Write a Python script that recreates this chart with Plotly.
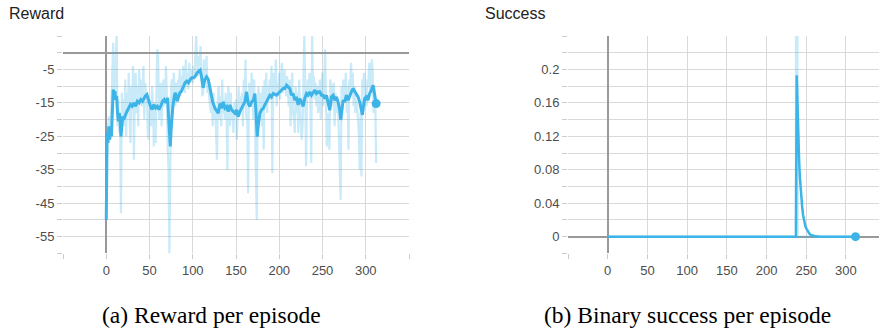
import plotly.graph_objects as go

# ---------------- data ----------------
reward_raw = [
    -50, -21, -27, -19, -26, -22, -16, -6, 3, -13,
    -10, -2, 6, -22, -14, -24, -18, -48, -12, -20,
    -14, -22, -8, -25, -12, -18, -6, -20, -27, -10,
    -16, -4, -32, -12, -6, -18, -10, -22, -5, -14,
    -8, -16, -11, -4, -20, -9, -14, -12, -24, -26,
    -18, -14, -22, -10, -16, -28, -15, -27, -12, 1,
    -1, -20, -15, -9, -22, -12, -8, -16, -13, -4,
    -12, -28, -35, -60, -26, -10, -8, -18, -6, -12,
    -16, -9, -14, -8, -12, -5, -13, -7, -10, -4,
    -8, -12, -2, -10, -6, -11, -3, -9, -7, -5,
    -9, -4, -8, 3, 6, -3, -7, -1, -4, 2,
    -10, -13, -12, -2, -6, -8, -1, -12, -10, -14,
    -16, -18, -14, -22, -12, -20, -16, -24, -32, -14,
    -10, -20, -13, -22, -8, -18, -14, -20, -12, -17,
    -35, -10, -14, -22, -12, -20, -18, -24, -15, -17,
    -14, -26, -20, -10, -18, -13, -16, -12, -22, -8,
    -14, -2, -20, -18, -42, -9, -12, -16, -6, -14,
    -20, -8, -30, -36, -50, -14, -10, -18, -12, -16,
    -22, -10, -29, -8, -14, -6, -18, -10, -12, -8,
    -14, -4, -36, -6, -10, -12, -2, -16, -9, -13,
    -6, -14, -8, -3, -12, -10, -5, -9, -13, -7,
    -12, -16, -8, -22, -14, -6, -18, -20, -24, -10,
    -18, -12, -24, -8, -16, -20, -26, -22, -3, 6,
    -10, -34, -14, -8, -13, -6, -15, -33, 6, -10,
    -7, -14, -9, -16, -10, -18, -12, -8, -20, -13,
    -6, -16, -10, 1, -14, -28, -20, -18, -29, -8,
    -10, -12, -16, -9, -22, -12, -18, -14, -16, -24,
    -37, -44, -10, -16, -8, -14, -12, -6, -18, -10,
    -29, -8, -12, -3, -10, -6, -16, -10, -18, -14,
    -16, -20, -24, -35, -18, -37, -8, -10, -6, -14,
    -12, -16, -8, -10, -3, -12, -8, -2, -6, -18, -10, -14, -33,
]
reward_episodes = list(range(len(reward_raw)))

reward_smooth_ep = [
    0, 1, 2, 3, 4, 5, 6, 7, 8, 9, 10, 11, 12, 13, 14, 15, 16, 17, 18, 19,
    20, 22, 24, 26, 28, 30, 32, 34, 36, 38, 40, 42, 45, 47, 49, 51, 53, 55,
    57, 59, 61, 63, 65, 67, 69, 71, 72, 74, 75, 77, 79, 80, 82, 84, 85, 87,
    89, 91, 93, 95, 97, 99, 101, 103, 105, 107, 108.5, 110, 112, 114, 116,
    118, 120, 123, 125.7, 127.6, 129.5, 131.5, 133.4, 135.3, 137.2, 139.2,
    141, 143, 145, 146.9, 148.8, 150.7, 152.6, 154.5, 156.5, 158.4, 160.3,
    162.2, 164.2, 166, 168, 170, 171.8, 173, 174.5, 176, 177.6, 179.5, 181.5,
    183.4, 185.3, 187.2, 189.1, 191, 193, 196.8, 200.7, 204.5, 206.4, 208.4,
    210.3, 212.2, 214.1, 216, 218, 219.9, 221.8, 223.8, 225.7, 227.6, 229.6,
    231.5, 233.4, 235.3, 237.3, 239.2, 241.1, 243, 245, 246.9, 248.8, 250.7,
    252.6, 254.6, 256.5, 258.4, 260.3, 262.3, 264.2, 266.1, 268, 270, 271.1,
    272.6, 273.8, 275.7, 277.6, 279.6, 281.5, 283.4, 285.3, 287.3, 289.2,
    291.1, 293, 295, 296.1, 297.6, 298.8, 300.7, 302.6, 304.5, 306.5, 308.4,
    309.5, 310.7, 312,
]
reward_smooth_val = [
    -50, -24, -27, -22, -26, -23, -25, -16, -11, -12, -11.5, -14, -13, -18,
    -20.5, -18, -20, -25, -21, -19,
    -20, -18.5, -17.5, -16.5, -15.5, -16, -15, -16, -14.5, -15, -14, -14.5,
    -13, -12.5, -14.5, -16, -17, -15.5,
    -16.5, -16, -17, -16, -14.5, -14, -15, -13.5, -19, -28, -23, -16, -12.5,
    -12, -14.5, -13, -12, -11.5,
    -10, -9, -8.5, -9, -8, -7.5, -7.5, -7, -6, -5.5, -5.2, -7, -10.5, -8,
    -7.2,
    -8, -11, -14.7, -16.6, -17.6, -18.1, -15.2, -16.6, -14.7, -16.6, -16.1,
    -17.6, -15.6, -17.1, -17.6, -18.1, -17.1, -19.1, -17.6, -16.6, -15.6,
    -14.7,
    -11.7, -15.2, -16.1, -14.7, -14.2, -12.2, -17.2, -25.1, -21.1, -18.1,
    -17.1, -16.6,
    -15.6, -14.7, -13.7, -12.7, -13.2, -12.2, -12.7, -11.7, -10.7, -10.7,
    -9.7,
    -10.2, -10.7, -12.7, -12.2, -14.2, -13.2, -15.6, -13.7, -14.7, -16.1,
    -13.6,
    -12.2, -12.7, -11.7, -12.7, -11.7, -11.2, -12.2, -11.7, -11.7, -12.7,
    -12.7,
    -13.7, -12.7, -15.6, -17.2, -13.2, -12.7, -14.2, -13.2, -14.7, -17.2,
    -20.1,
    -16.1, -14.2, -14.7, -12.7, -14.2, -13.2, -11.7, -10.7, -11.7, -12.7,
    -13.2, -14.7, -16.7, -18.6, -15.6, -13.7, -13.2, -14.2, -12.2, -11.2,
    -9.7,
    -11.7, -12.7, -15.2,
]

success_raw_ep = [0, 237, 238, 239, 312]
success_raw_val = [0, 0, 1, 0, 0]

success_smooth_ep = [0, 237, 238, 239, 240, 241, 242, 243, 244, 245, 246,
                     247, 248, 249, 250, 252, 254, 256, 258, 262, 268, 312]
success_smooth_val = [0, 0, 0.193, 0.150, 0.117, 0.091, 0.071, 0.055, 0.043,
                      0.034, 0.026, 0.020, 0.016, 0.012, 0.010, 0.006, 0.0035,
                      0.002, 0.0012, 0.0004, 0.0, 0.0]

reward_tick_vals = [-50, 0, 50, 100, 150, 200, 250, 300, 350]
reward_tick_text = ["", "0", "50", "100", "150", "200", "250", "300", ""]
success_tick_vals = [-50, 0, 50, 100, 150, 200, 250, 300]
success_tick_text = ["", "0", "50", "100", "150", "200", "250", "300"]
reward_y_vals = [-55, -45, -35, -25, -15, -5]
reward_y_text = ["-55", "-45", "-35", "-25", "-15", "-5"]
success_y_vals = [0, 0.04, 0.08, 0.12, 0.16, 0.2]
success_y_text = ["0", "0.04", "0.08", "0.12", "0.16", "0.2"]

# ---------------- style ----------------
BLUE = "#3cb4e8"
LIGHT = "rgba(60,180,232,0.28)"
GRID = "#d9d9d9"
ZERO = "#999999"
TICKFONT = dict(family="Liberation Sans, Arial, sans-serif", size=13, color="#4d4d4d")

W, H = 879, 331

fig = go.Figure()

fig.add_trace(go.Scatter(x=reward_episodes, y=reward_raw, mode="lines",
                         line=dict(color=LIGHT, width=2.2), xaxis="x", yaxis="y",
                         showlegend=False, hoverinfo="skip"))
fig.add_trace(go.Scatter(x=reward_smooth_ep, y=reward_smooth_val, mode="lines",
                         line=dict(color=BLUE, width=3), xaxis="x", yaxis="y",
                         showlegend=False))
fig.add_trace(go.Scatter(x=[reward_smooth_ep[-1]], y=[reward_smooth_val[-1]], mode="markers",
                         marker=dict(color=BLUE, size=9), xaxis="x", yaxis="y",
                         showlegend=False))

fig.add_trace(go.Scatter(x=success_raw_ep, y=success_raw_val, mode="lines",
                         line=dict(color=LIGHT, width=2.5), xaxis="x2", yaxis="y2",
                         showlegend=False, hoverinfo="skip"))
fig.add_trace(go.Scatter(x=success_smooth_ep, y=success_smooth_val, mode="lines",
                         line=dict(color=BLUE, width=2.5), xaxis="x2", yaxis="y2",
                         showlegend=False))
fig.add_trace(go.Scatter(x=[success_smooth_ep[-1]], y=[success_smooth_val[-1]], mode="markers",
                         marker=dict(color=BLUE, size=9), xaxis="x2", yaxis="y2",
                         showlegend=False))

ydom = [(H - 253.4) / H, (H - 36) / H]

common_x = dict(showgrid=True, gridcolor=GRID, gridwidth=1, zeroline=True,
                zerolinecolor=ZERO, zerolinewidth=1.5, showline=False,
                ticks="outside", ticklen=5, tickcolor="#cccccc",
                tickfont=TICKFONT, tickmode="array")
common_y = dict(showgrid=True, gridcolor=GRID, gridwidth=1, zeroline=True,
                zerolinecolor=ZERO, zerolinewidth=1.5, showline=False,
                ticks="outside", ticklen=5, tickcolor="#cccccc",
                tickfont=TICKFONT, tickmode="array")

fig.update_layout(
    width=W, height=H,
    margin=dict(l=0, r=0, t=0, b=0),
    paper_bgcolor="white", plot_bgcolor="white",
    xaxis=dict(common_x, domain=[63 / W, 409 / W], range=[-50, 350],
               tickvals=reward_tick_vals, ticktext=reward_tick_text, anchor="y"),
    yaxis=dict(common_y, domain=ydom, range=[-60, 5],
               tickvals=reward_y_vals, ticktext=reward_y_text, anchor="x",
               minor=dict(tick0=0, dtick=5, showgrid=True, gridcolor=GRID,
                          ticks="outside", ticklen=5, tickcolor="#cccccc")),
    xaxis2=dict(common_x, domain=[568 / W, 1.0], range=[-50, 341.6],
                tickvals=success_tick_vals, ticktext=success_tick_text, anchor="y2"),
    yaxis2=dict(common_y, domain=ydom, range=[-0.02, 0.24],
                tickvals=success_y_vals, ticktext=success_y_text, anchor="x2",
                minor=dict(tick0=0, dtick=0.02, showgrid=True, gridcolor=GRID,
                           ticks="outside", ticklen=5, tickcolor="#cccccc")),
    annotations=[
        dict(text="Reward", x=7 / W, y=(H - 14) / H, xref="paper", yref="paper",
             xanchor="left", yanchor="middle", showarrow=False,
             font=dict(family="Liberation Sans, Arial, sans-serif", size=16, color="#222222")),
        dict(text="Success", x=483 / W, y=(H - 14) / H, xref="paper", yref="paper",
             xanchor="left", yanchor="middle", showarrow=False,
             font=dict(family="Liberation Sans, Arial, sans-serif", size=16, color="#222222")),
        dict(text="(a) Reward per episode", x=211 / W, y=(H - 315) / H, xref="paper",
             yref="paper", xanchor="center", yanchor="middle", showarrow=False,
             font=dict(family="Liberation Serif, Times New Roman, serif", size=23.5, color="black")),
        dict(text="(b) Binary success per episode", x=687 / W, y=(H - 315) / H, xref="paper",
             yref="paper", xanchor="center", yanchor="middle", showarrow=False,
             font=dict(family="Liberation Serif, Times New Roman, serif", size=23.5, color="black")),
    ],
)

fig.write_html("out.html", config={"displayModeBar": False},
               post_script="document.body.style.margin='0';document.body.style.overflow='hidden';")
